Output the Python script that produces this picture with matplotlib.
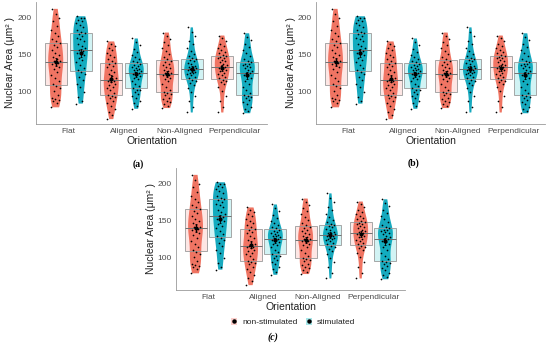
import matplotlib
matplotlib.use("Agg")
import matplotlib.pyplot as plt
from matplotlib.patches import Patch
from matplotlib.lines import Line2D
from matplotlib.colors import to_rgba
import numpy as np

plt.rcParams['font.family'] = ['Liberation Sans', 'DejaVu Sans']

# -------------------------------------------------------------
# Data (nuclear area, um^2)
# -------------------------------------------------------------
orientations = ["Flat", "Aligned", "Non-Aligned", "Perpendicular"]
groups = ["non-stimulated", "stimulated"]

flat_ns = [78, 84, 87, 88, 89, 91, 95, 100, 104, 107,
           109, 113, 118, 122, 126, 130, 133, 135, 137, 138,
           140, 141, 143, 146, 149, 152, 155, 159, 162, 165,
           167, 170, 174, 178, 183, 188, 194, 199, 204, 211]
flat_st = [83, 86, 92, 99, 105, 110, 115, 119, 123, 126,
           128, 131, 135, 139, 142, 145, 148, 150, 152, 154,
           156, 158, 161, 164, 167, 170, 172, 175, 177, 178,
           180, 183, 186, 189, 192, 194, 196, 198, 199, 201]
aligned_ns = [62, 67, 72, 76, 80, 84, 87, 90, 92, 93,
              95, 98, 101, 104, 106, 108, 110, 112, 113, 114,
              115, 117, 120, 123, 126, 129, 132, 134, 136, 138,
              140, 143, 146, 149, 152, 155, 158, 161, 164, 167]
aligned_st = [76, 80, 84, 87, 90, 93, 96, 99, 101, 102,
              104, 107, 110, 113, 116, 118, 120, 122, 123, 124,
              126, 127, 128, 129, 130, 131, 132, 134, 135, 137,
              139, 141, 143, 146, 149, 153, 157, 162, 166, 171]
nonaligned_ns = [77, 80, 83, 85, 87, 89, 91, 94, 96, 97,
                 99, 102, 106, 110, 113, 116, 118, 120, 121, 122,
                 124, 125, 127, 129, 131, 133, 135, 137, 139, 141,
                 143, 146, 150, 154, 158, 162, 166, 170, 175, 179]
nonaligned_st = [71, 78, 86, 93, 99, 104, 108, 111, 113, 115,
                 117, 119, 121, 123, 124, 125, 126, 127, 128, 129,
                 130, 131, 132, 133, 134, 136, 138, 140, 142, 143,
                 145, 147, 150, 154, 158, 163, 168, 174, 180, 186]
perp_ns = [71, 78, 86, 93, 100, 105, 109, 112, 114, 115,
           117, 119, 121, 123, 125, 127, 129, 130, 131, 132,
           134, 135, 137, 139, 141, 142, 144, 145, 146, 147,
           149, 151, 153, 155, 158, 161, 164, 167, 171, 175]
perp_st = [70, 73, 76, 79, 82, 85, 88, 90, 92, 93,
           95, 98, 102, 106, 110, 114, 117, 120, 122, 124,
           125, 127, 129, 131, 133, 134, 135, 136, 137, 139,
           140, 143, 147, 151, 155, 159, 164, 169, 173, 178]

data_ns = [flat_ns, aligned_ns, nonaligned_ns, perp_ns]
data_st = [flat_st, aligned_st, nonaligned_st, perp_st]

col_ns = "#EF7462"
col_st = "#17A9BE"
box_ns = "#F8766D"
box_st = "#00BFC4"

W, H = 550, 346
fig = plt.figure(figsize=(W / 100, H / 100), dpi=100)


def px_axes(l, t, r, b):
    return fig.add_axes([l / W, 1 - b / H, (r - l) / W, (b - t) / H])


def draw_panel(ax):
    base = np.arange(1, len(orientations) + 1)
    for data, off, vcol, bcol in [(data_ns, -0.225, col_ns, box_ns),
                                  (data_st, 0.225, col_st, box_st)]:
        pos = base + off
        vp = ax.violinplot(data, positions=pos, widths=0.27,
                           showextrema=False, bw_method=0.4)
        for b in vp['bodies']:
            b.set_facecolor(vcol)
            b.set_edgecolor('none')
            b.set_alpha(1)
            b.set_zorder(1)
        bp = ax.boxplot(data, positions=pos, widths=0.4, whis=0,
                        showfliers=False, showcaps=False, patch_artist=True,
                        manage_ticks=False)
        for p in bp['boxes']:
            p.set_facecolor(to_rgba(bcol, 0.18))
            p.set_edgecolor('#9A9A9A')
            p.set_linewidth(0.6)
            p.set_zorder(2)
        for m in bp['medians']:
            m.set_color('#707070')
            m.set_linewidth(0.7)
            m.set_zorder(3)
        for w in bp['whiskers']:
            w.set_linewidth(0)
        # jittered points (deterministic spread)
        for x0, vals in zip(pos, data):
            vals = np.asarray(vals, float)
            jit = ((np.arange(len(vals)) * 0.6180339) % 1 - 0.5) * 0.17
            ax.scatter(x0 + jit, vals, s=1.5, color='black', lw=0, zorder=4)
            mu = vals.mean()
            se = vals.std(ddof=1) / np.sqrt(len(vals))
            ax.errorbar(x0, mu, yerr=se, fmt='o', ms=2.0, color='black',
                        elinewidth=0.6, capsize=1.0, capthick=0.6, zorder=5)
    ax.set_xlim(0.42, 4.58)
    ax.set_ylim(56, 220)
    ax.set_yticks([100, 150, 200])
    ax.set_xticks(base)
    ax.set_xticklabels(orientations)
    ax.tick_params(axis='both', length=0, labelsize=6, colors='#4D4D4D')
    ax.tick_params(axis='x', pad=3)
    ax.tick_params(axis='y', pad=3)
    for s in ['top', 'right']:
        ax.spines[s].set_visible(False)
    for s in ['left', 'bottom']:
        ax.spines[s].set_color('#9A9A9A')
        ax.spines[s].set_linewidth(0.6)
    ax.set_xlabel("Orientation", fontsize=7.5, color='#222222', labelpad=1)
    ax.set_ylabel("Nuclear Area (μm² )", fontsize=7.5, color='#222222',
                  labelpad=1.5)


ax_a = px_axes(36, 2.2, 267, 123.6)
ax_b = px_axes(316, 2.2, 545, 123.6)
ax_c = px_axes(176, 168.2, 405, 289.6)
for ax in (ax_a, ax_b, ax_c):
    draw_panel(ax)

fig.text(138 / W, 1 - 164 / H, "(a)", fontsize=7, fontweight='bold',
         family='Liberation Serif', ha='center', va='center')
fig.text(413 / W, 1 - 163 / H, "(b)", fontsize=7, fontweight='bold',
         family='Liberation Serif', ha='center', va='center')
fig.text(273 / W, 1 - 337 / H, "(c)", fontsize=7, fontweight='bold',
         style='italic', family='Liberation Serif', ha='center', va='center')

handles = []
for bcol in (box_ns, box_st):
    handles.append((Patch(facecolor=to_rgba(bcol, 0.35), edgecolor='none'),
                    Line2D([], [], marker='o', ls='none', ms=2.2,
                           color='black')))
fig.legend(handles, groups, loc='center', bbox_to_anchor=(293 / W, 1 - 322 / H),
           ncol=2, frameon=False, fontsize=6, handlelength=0.7,
           handleheight=0.9, handletextpad=0.6, columnspacing=1.0,
           labelcolor='#222222')

fig.savefig("out.png", dpi=100)
